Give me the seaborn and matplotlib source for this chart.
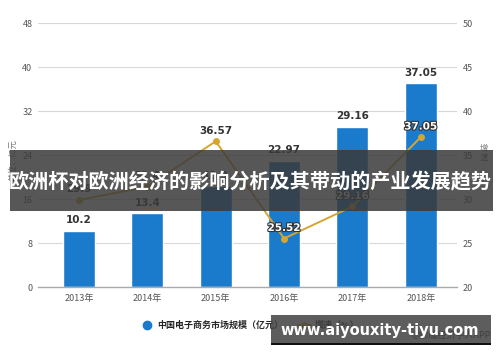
import matplotlib
matplotlib.use("Agg")
import matplotlib.pyplot as plt
import matplotlib.patheffects as pe
import seaborn as sns
import pandas as pd
from matplotlib.lines import Line2D
from matplotlib.patches import Rectangle

years = ["2013年", "2014年", "2015年", "2016年", "2017年", "2018年"]
market_size = [10.2, 13.4, 18.3, 22.97, 29.16, 37.05]
growth = [29.9, 31.4, 36.57, 25.52, 29.16, 37.05]
left_ticks = [0, 8, 16, 24, 32, 40, 48]
right_ticks = [20, 25, 30, 35, 40, 45, 50]

title_text = "欧洲杯对欧洲经济的影响分析及其带动的产业发展趋势"
url_text = "www.aiyouxity-tiyu.com"
legend_bar = "中国电子商务市场规模（亿元）"
legend_line = "增速（%）"
source_text = "@前瞻经济学人APP"

sns.set_theme(style="white")
plt.rcParams["font.family"] = ["Noto Sans CJK SC", "DejaVu Sans"]
plt.rcParams["axes.unicode_minus"] = False

BLUE = "#1a7acb"
GOLD = "#d6a530"
GRID = "#d8d8d8"
TXT = "#555555"

df = pd.DataFrame({"year": years, "size": market_size, "growth": growth})

fig = plt.figure(figsize=(5, 3.62), dpi=100)
ax = fig.add_axes([0.076, 0.207, 0.838, 0.729])

sns.barplot(data=df, x="year", y="size", color=BLUE, width=0.47,
            saturation=1, ax=ax, zorder=2)
ax.set_ylim(0, 48)
ax.set_xlim(-0.6, 5.53)
ax.set_yticks(left_ticks)
ax.set_yticklabels([str(t) for t in left_ticks], fontsize=6.5, color=TXT)
ax.tick_params(axis="x", labelsize=6.5, colors=TXT, length=0, pad=5)
ax.tick_params(axis="y", length=0, pad=4)
ax.set_xlabel("")
ax.set_ylabel("")
ax.yaxis.grid(True, color=GRID, linewidth=0.8, zorder=0)
ax.set_axisbelow(True)
for s in ["top", "right", "left"]:
    ax.spines[s].set_visible(False)
ax.spines["bottom"].set_color("#aaaaaa")
ax.spines["bottom"].set_linewidth(1)

for i, v in enumerate(market_size):
    ax.annotate(f"{v:g}", (i, v), xytext=(0, 4), textcoords="offset points",
                ha="center", va="bottom", fontsize=7.5, fontweight="bold",
                color="#333333", family="DejaVu Sans")

ax2 = ax.twinx()
sns.lineplot(x=list(range(len(years))), y=growth, ax=ax2, color=GOLD,
             linewidth=1.4, marker="o", markersize=5, markeredgewidth=0,
             zorder=3)
ax2.set_ylim(20, 50)
ax2.set_yticks(right_ticks)
ax2.set_yticklabels([str(t) for t in right_ticks], fontsize=6.5, color=TXT)
ax2.tick_params(axis="y", length=0, pad=4)
for s in ["top", "right", "left", "bottom"]:
    ax2.spines[s].set_visible(False)
ax2.grid(False)

for i, v in enumerate(growth):
    white = i >= 3
    t = ax2.annotate(f"{v:g}", (i, v), xytext=(0, 4), textcoords="offset points",
                     ha="center", va="bottom", fontsize=7.5, fontweight="bold",
                     color="white" if white else "#333333",
                     family="DejaVu Sans")
    if white:
        t.set_path_effects([pe.withStroke(linewidth=1.6, foreground="#333333")])

fig.text(0.026, 1 - 160 / 362, "单位：亿元", rotation=90, fontsize=6,
         color="#777777", ha="center", va="center")
fig.text(0.968, 1 - 162 / 362, "增\n速\n:\n%", fontsize=6, color="#777777",
         ha="center", va="center", linespacing=1.0)

handles = [
    Line2D([], [], marker="o", linestyle="none", color=BLUE, markersize=6),
    Line2D([], [], marker="o", color=GOLD, markersize=4, linewidth=1.4),
]
fig.legend(handles, [legend_bar, legend_line], loc="center",
           bbox_to_anchor=(0.5, 0.102), ncol=2, frameon=False,
           handlelength=1.4, columnspacing=1.6, handletextpad=0.5,
           prop={"weight": "bold", "size": 6.5})

fig.text(0.982, 1 - 335 / 362, source_text, fontsize=6.5, color="#444444",
         ha="right", va="center")

# overlay banners
fig.patches.append(Rectangle((0.02, 1 - 211 / 362), 0.966, 61 / 362,
                             transform=fig.transFigure, facecolor="#3a3a3a",
                             alpha=0.85, edgecolor="none", zorder=10))
fig.text(0.5, 1 - 182 / 362, title_text, fontsize=14.5, fontweight="bold",
         color="white", ha="center", va="center", zorder=11)

fig.patches.append(Rectangle((0.542, 1 - 343 / 362), 0.44, 28 / 362,
                             transform=fig.transFigure, facecolor="#404040",
                             alpha=0.85, edgecolor="none", zorder=10))
fig.patches.append(Rectangle((0.542, 1 - 345 / 362), 0.44, 2 / 362,
                             transform=fig.transFigure, facecolor="#111111",
                             edgecolor="none", zorder=10))
fig.text(0.76, 1 - 331 / 362, url_text, fontsize=10.5, fontweight="bold",
         color="white", ha="center", va="center", zorder=11,
         family="DejaVu Sans")

fig.savefig("out.png", dpi=100, facecolor="white")
